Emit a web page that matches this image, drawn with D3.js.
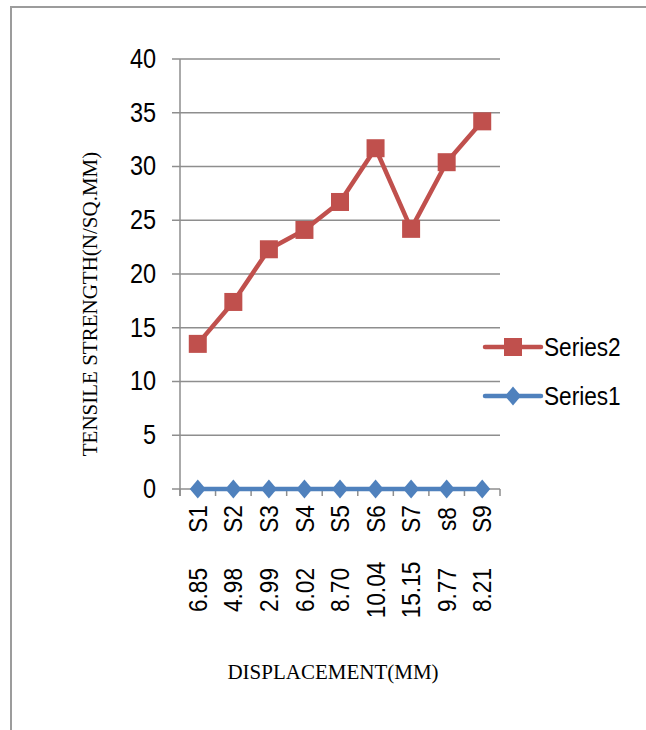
<!DOCTYPE html>
<html>
<head>
<meta charset="utf-8">
<script src="https://cdn.jsdelivr.net/npm/d3@7"></script>
<style>
  html, body { margin:0; padding:0; background:#fff; overflow:hidden; }
  .num { font-family: 'Liberation Sans', Arial, sans-serif; fill:#000; }
  .title { font-family: 'Liberation Serif', 'Times New Roman', serif; fill:#000; }
</style>
</head>
<body>
<div class="viz"></div>
<script>
const width = 646;
const height = 730;
const margin = {top:59, left:180, bottom:241, right:146};
const narrow = 0.87; // the source font is a condensed sans

const categories = ['S1','S2','S3','S4','S5','S6','S7','s8','S9'];
const displacements = ['6.85','4.98','2.99','6.02','8.70','10.04','15.15','9.77','8.21'];
const series1 = [0,0,0,0,0,0,0,0,0];
const series2 = [13.5,17.4,22.3,24.1,26.7,31.7,24.2,30.4,34.2];
const yTicks = [0,5,10,15,20,25,30,35,40];

const gray = '#8e8e8e';
const red = '#C0504D';
const blue = '#4F81BD';

const x = d3.scaleBand()
  .domain(d3.range(categories.length))
  .range([margin.left, width - margin.right]);

const y = d3.scaleLinear()
  .domain([0,40])
  .range([height - margin.bottom, margin.top]);

const cx = i => x(i) + x.bandwidth()/2;

const svg = d3.select('.viz')
  .append('svg')
    .attr('width', width)
    .attr('height', height)
    .style('display','block');

// outer chart frame: only the top and left edges are in view
svg.append('line')
  .attr('x1', 10).attr('x2', width + 20)
  .attr('y1', 7).attr('y2', 7)
  .attr('stroke', '#9c9c9c')
  .attr('stroke-width', 2);

svg.append('line')
  .attr('x1', 11).attr('x2', 11)
  .attr('y1', 6).attr('y2', height + 20)
  .attr('stroke', '#9c9c9c')
  .attr('stroke-width', 2);

// gridlines + y ticks
svg.append('g')
  .selectAll('line.grid')
  .data(yTicks)
  .enter()
  .append('line')
    .attr('class','grid')
    .attr('x1', margin.left - 8)
    .attr('x2', width - margin.right)
    .attr('y1', d=>y(d))
    .attr('y2', d=>y(d))
    .attr('stroke', gray)
    .attr('stroke-width', 1.5);

svg.append('g')
  .selectAll('text.ytick')
  .data(yTicks)
  .enter()
  .append('text')
    .attr('class','num ytick')
    .attr('transform', d=>`translate(${margin.left - 24},${y(d)}) scale(${narrow},1)`)
    .attr('dy', '0.33em')
    .attr('text-anchor','end')
    .attr('font-size', 27)
    .text(d=>d);

// y axis line
svg.append('line')
  .attr('x1', margin.left).attr('x2', margin.left)
  .attr('y1', y(40)).attr('y2', y(0) + 7)
  .attr('stroke', gray)
  .attr('stroke-width', 1.5);

// x tick marks at band edges
svg.append('g')
  .selectAll('line.xtick')
  .data(d3.range(categories.length + 1))
  .enter()
  .append('line')
    .attr('class','xtick')
    .attr('x1', d=>margin.left + d*x.bandwidth())
    .attr('x2', d=>margin.left + d*x.bandwidth())
    .attr('y1', y(0))
    .attr('y2', y(0) + 7)
    .attr('stroke', gray)
    .attr('stroke-width', 1.5);

// category labels
svg.append('g')
  .selectAll('text.cat')
  .data(categories)
  .enter()
  .append('text')
    .attr('class','num cat')
    .attr('font-size', 26)
    .attr('text-anchor','middle')
    .attr('dy','0.35em')
    .attr('transform', (d,i)=>`translate(${cx(i)},${y(0) + 30}) rotate(-90) scale(${narrow},1)`)
    .text(d=>d);

svg.append('g')
  .selectAll('text.disp')
  .data(displacements)
  .enter()
  .append('text')
    .attr('class','num disp')
    .attr('font-size', 26)
    .attr('text-anchor','middle')
    .attr('dy','0.35em')
    .attr('transform', (d,i)=>`translate(${cx(i)},${y(0) + 101}) rotate(-90) scale(${narrow},1)`)
    .text(d=>d);

// axis titles
svg.append('text')
  .attr('class','title')
  .attr('font-size', 21)
  .attr('text-anchor','middle')
  .attr('transform', `translate(97,304) rotate(-90)`)
  .text('TENSILE STRENGTH(N/SQ.MM)');

svg.append('text')
  .attr('class','title')
  .attr('font-size', 21)
  .attr('text-anchor','middle')
  .attr('x', 333)
  .attr('y', 679)
  .text('DISPLACEMENT(MM)');

// series lines
const line = d3.line()
  .x((d,i)=>cx(i))
  .y(d=>y(d));

svg.append('path')
  .datum(series1)
  .attr('d', line)
  .attr('fill','none')
  .attr('stroke', blue)
  .attr('stroke-width', 4.5)
  .attr('stroke-linejoin','round');

const diamond = (px, py, w, h) => `M${px},${py-h/2}L${px+w/2},${py}L${px},${py+h/2}L${px-w/2},${py}Z`;

svg.append('g')
  .selectAll('path.s1')
  .data(series1)
  .enter()
  .append('path')
    .attr('class','s1')
    .attr('d', (d,i)=>diamond(cx(i), y(d), 16, 19))
    .attr('fill', blue);

svg.append('path')
  .datum(series2)
  .attr('d', line)
  .attr('fill','none')
  .attr('stroke', red)
  .attr('stroke-width', 4.5)
  .attr('stroke-linejoin','round');

svg.append('g')
  .selectAll('rect.s2')
  .data(series2)
  .enter()
  .append('rect')
    .attr('class','s2')
    .attr('x', (d,i)=>cx(i) - 9)
    .attr('y', d=>y(d) - 9)
    .attr('width', 18)
    .attr('height', 18)
    .attr('fill', red);

// legend
const legend = [
  {name:'Series2', colour:red, shape:'square', y:347},
  {name:'Series1', colour:blue, shape:'diamond', y:396}
];

const lg = svg.append('g')
  .selectAll('g.legend')
  .data(legend)
  .enter()
  .append('g')
    .attr('class','legend')
    .attr('transform', d=>`translate(485,${d.y})`);

lg.append('line')
  .attr('x1', 0).attr('x2', 56)
  .attr('stroke', d=>d.colour)
  .attr('stroke-width', 4.5)
  .attr('stroke-linecap','round');

lg.filter(d=>d.shape=='square')
  .append('rect')
    .attr('x', 19).attr('y', -9)
    .attr('width', 18).attr('height', 18)
    .attr('fill', d=>d.colour);

lg.filter(d=>d.shape=='diamond')
  .append('path')
    .attr('d', diamond(28, 0, 16, 19))
    .attr('fill', d=>d.colour);

lg.append('text')
  .attr('class','num')
  .attr('transform', `translate(59,0) scale(${narrow},1)`)
  .attr('dy','0.35em')
  .attr('font-size', 26)
  .text(d=>d.name);
</script>
</body>
</html>
